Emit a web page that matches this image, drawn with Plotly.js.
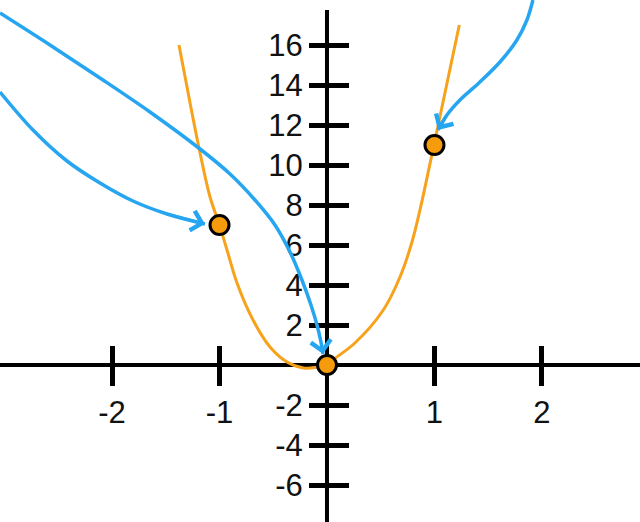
<!DOCTYPE html>
<html>
<head>
<meta charset="utf-8">
<script src="https://cdn.plot.ly/plotly-3.0.1.min.js"></script>
<style>html,body{margin:0;padding:0;background:#fff;}#chart{width:640px;height:522px;}</style>
</head>
<body>
<div id="chart"></div>
<script>
// Hand-drawn parabola, values
const curveX = [-1.377, -1.256, -1.181, -1.088, -1.0, -0.93, -0.837, -0.688, -0.53, -0.372, -0.22, -0.1, 0, 0.028, 0.26, 0.524, 0.679, 0.788, 0.865, 0.995, 1.113, 1.231];
const curveY = [16.0, 12.6, 10.6, 8.4, 7.0, 5.75, 4.1, 2.25, 0.9, 0.15, -0.15, -0.12, 0, 0.15, 1.1, 2.75, 4.4, 6.1, 7.75, 11.0, 14.0, 17.0];

// Highlighted points
const pointX = [-1, 0, 1];
const pointY = [7, 0, 11];

// Blue arrows, last point is the arrow tip
const arrowAX = [-3.042, -2.735, -2.419, -2.112, -1.805, -1.488, -1.135];
const arrowAY = [13.65, 11.75, 10.2, 9.1, 8.2, 7.55, 7.05];
const arrowBX = [-3.042, -2.577, -2.112, -1.647, -1.181, -0.902, -0.670, -0.484, -0.344, -0.233, -0.149, -0.093, -0.056, -0.037];
const arrowBY = [17.6, 16.0, 14.35, 12.65, 10.8, 9.55, 8.25, 7.0, 5.65, 4.25, 3.0, 2.0, 1.15, 0.55];
const arrowCX = [1.916, 1.860, 1.767, 1.609, 1.423, 1.237, 1.116, 1.033];
const arrowCY = [18.25, 17.25, 16.25, 15.15, 14.15, 13.25, 12.5, 11.75];

// Tick values and labels
const xTickVals = [-2, -1, 1, 2];
const xTickText = ['-2', '-1', '1', '2'];
const yTickVals = [-6, -4, -2, 2, 4, 6, 8, 10, 12, 14, 16];
const yTickText = ['-6', '-4', '-2', '2', '4', '6', '8', '10', '12', '14', '16'];

const BLUE = '#26A6F0';
const ORANGE = '#F7A21B';
const FONT = {family: 'Liberation Sans, Arial, sans-serif', size: 31, color: '#111'};

const xRange = [-3.042, 2.912];
const yRange = [-7.85, 18.25];
const xPos = (0 - yRange[0]) / (yRange[1] - yRange[0]);
const yPos = (0 - xRange[0]) / (xRange[1] - xRange[0]);

function arrowTrace(xs, ys) {
  return {x: xs, y: ys, mode: 'lines', type: 'scatter', line: {color: BLUE, width: 3.5, shape: 'spline', smoothing: 1},
          hoverinfo: 'skip', showlegend: false};
}
function arrowHead(xs, ys) {
  const n = xs.length;
  return {x: xs[n-1], y: ys[n-1], ax: xs[n-2], ay: ys[n-2], xref: 'x', yref: 'y', axref: 'x', ayref: 'y',
          text: '', showarrow: true, arrowhead: 4, arrowsize: 1.3, arrowwidth: 3, arrowcolor: BLUE, standoff: 0};
}

const data = [
  {x: curveX, y: curveY, mode: 'lines', type: 'scatter', line: {color: ORANGE, width: 3, shape: 'spline', smoothing: 1},
   hoverinfo: 'skip', showlegend: false},
  arrowTrace(arrowAX, arrowAY),
  arrowTrace(arrowBX, arrowBY),
  arrowTrace(arrowCX, arrowCY),
  {x: pointX, y: pointY, mode: 'markers', type: 'scatter',
   marker: {size: 19, color: '#F59B0C', line: {color: '#000', width: 3}}, hoverinfo: 'skip', showlegend: false},
  {x: [], y: [], xaxis: 'x2', yaxis: 'y2', type: 'scatter', mode: 'markers', showlegend: false, hoverinfo: 'skip'}
];

const layout = {
  width: 640, height: 522,
  margin: {l: 0, r: 0, t: 0, b: 0},
  paper_bgcolor: '#fff', plot_bgcolor: '#fff',
  showlegend: false,
  font: FONT,
  xaxis: {range: xRange, domain: [0, 1], anchor: 'free', position: xPos, showline: true, linewidth: 4, linecolor: '#000',
          ticks: 'outside', ticklen: 19, tickwidth: 5, tickcolor: '#000', tickvals: xTickVals, ticktext: xTickText,
          showgrid: false, zeroline: false, layer: 'below traces', tickfont: FONT, fixedrange: true},
  xaxis2: {range: xRange, overlaying: 'x', side: 'top', anchor: 'free', position: xPos, showline: false,
           ticks: 'outside', ticklen: 19, tickwidth: 5, tickcolor: '#000', tickvals: xTickVals, showticklabels: false,
           showgrid: false, zeroline: false, layer: 'below traces', fixedrange: true},
  yaxis: {range: yRange, domain: [0, 1], anchor: 'free', position: yPos, showline: false,
          ticks: 'outside', ticklen: 18, tickwidth: 5, tickcolor: '#000', tickvals: yTickVals, ticktext: yTickText,
          showgrid: false, zeroline: false, layer: 'below traces', tickfont: FONT, fixedrange: true},
  yaxis2: {range: yRange, overlaying: 'y', side: 'right', anchor: 'free', position: yPos, showline: false,
           ticks: 'outside', ticklen: 21, tickwidth: 5, tickcolor: '#000', tickvals: yTickVals, showticklabels: false,
           showgrid: false, zeroline: false, layer: 'below traces', fixedrange: true},
  shapes: [
    {type: 'line', xref: 'x', yref: 'y', x0: 0, x1: 0, y0: yRange[0], y1: 17.75, line: {color: '#000', width: 4}, layer: 'below'}
  ],
  annotations: [arrowHead(arrowAX, arrowAY), arrowHead(arrowBX, arrowBY), arrowHead(arrowCX, arrowCY)]
};

Plotly.newPlot('chart', data, layout, {staticPlot: true, displayModeBar: false});
</script>
</body>
</html>
